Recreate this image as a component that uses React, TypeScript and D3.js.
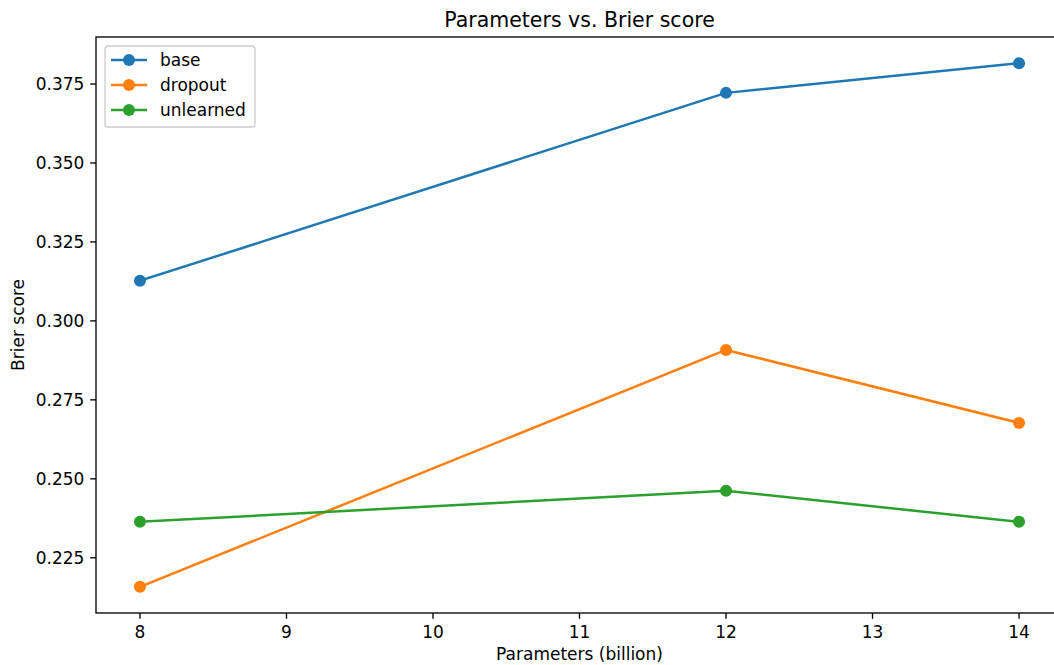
import React, { useEffect, useRef } from 'react';
import * as d3 from 'd3';

// data
const params = [8, 12, 14];
const baseScores = [0.3127, 0.3722, 0.3816];
const dropoutScores = [0.2158, 0.2908, 0.2677];
const unlearnedScores = [0.2364, 0.2462, 0.2364];
const xTicks = [8, 9, 10, 11, 12, 13, 14];
const yTicks = [0.225, 0.25, 0.275, 0.3, 0.325, 0.35, 0.375];

const seriesList = [
    { name: 'base', values: baseScores, color: '#1f77b4' },
    { name: 'dropout', values: dropoutScores, color: '#ff7f0e' },
    { name: 'unlearned', values: unlearnedScores, color: '#2ca02c' },
];

const W = 1054;
const H = 665;
const FONT = 'DejaVu Sans, sans-serif';
const FS = '17px';

export default function App() {
    const svgRef = useRef<SVGSVGElement>(null);

    useEffect(() => {
        document.body.style.margin = '0';
        const svg = d3.select(svgRef.current);
        svg.selectAll('*').remove();

        const left = 96, right = 1063, top = 37, bottom = 613;

        // matplotlib style 5% margins
        const xPad = (14 - 8) * 0.05;
        const x = d3.scaleLinear().domain([8 - xPad, 14 + xPad]).range([left, right]);
        const allY = [...baseScores, ...dropoutScores, ...unlearnedScores];
        const yMin = d3.min(allY)!, yMax = d3.max(allY)!;
        const yPad = (yMax - yMin) * 0.05;
        const y = d3.scaleLinear().domain([yMin - yPad, yMax + yPad]).range([bottom, top]);

        const g = svg.append('g');

        // lines + markers
        const line = d3.line<number>()
            .x((_, i) => x(params[i]))
            .y(d => y(d));

        seriesList.forEach(s => {
            g.append('path')
                .attr('d', line(s.values))
                .attr('fill', 'none')
                .attr('stroke', s.color)
                .attr('stroke-width', 2.5)
                .attr('stroke-linejoin', 'round')
                .attr('stroke-linecap', 'square');
            g.selectAll(null)
                .data(s.values)
                .enter()
                .append('circle')
                .attr('cx', (_, i) => x(params[i]))
                .attr('cy', d => y(d))
                .attr('r', 6)
                .attr('fill', s.color);
        });

        // spines (right one falls outside the image)
        g.append('rect')
            .attr('x', left).attr('y', top)
            .attr('width', right - left).attr('height', bottom - top)
            .attr('fill', 'none').attr('stroke', '#000').attr('stroke-width', 1.33);

        // x ticks
        const xt = g.append('g');
        xTicks.forEach(t => {
            xt.append('line')
                .attr('x1', x(t)).attr('x2', x(t))
                .attr('y1', bottom).attr('y2', bottom + 5.8)
                .attr('stroke', '#000').attr('stroke-width', 1.33);
            xt.append('text')
                .attr('x', x(t)).attr('y', bottom + 11.6)
                .attr('dy', '0.76em')
                .attr('text-anchor', 'middle')
                .style('font-family', FONT).style('font-size', FS)
                .text(t);
        });

        // y ticks
        const yt = g.append('g');
        yTicks.forEach(t => {
            yt.append('line')
                .attr('x1', left - 5.8).attr('x2', left)
                .attr('y1', y(t)).attr('y2', y(t))
                .attr('stroke', '#000').attr('stroke-width', 1.33);
            yt.append('text')
                .attr('x', left - 11.6).attr('y', y(t))
                .attr('dy', '0.36em')
                .attr('text-anchor', 'end')
                .style('font-family', FONT).style('font-size', FS)
                .text(t.toFixed(3));
        });

        // axis labels and title
        svg.append('text')
            .attr('x', (left + right) / 2).attr('y', 660)
            .attr('text-anchor', 'middle')
            .style('font-family', FONT).style('font-size', FS)
            .text('Parameters (billion)');

        svg.append('text')
            .attr('transform', `translate(24, ${(top + bottom) / 2}) rotate(-90)`)
            .attr('text-anchor', 'middle')
            .style('font-family', FONT).style('font-size', FS)
            .text('Brier score');

        svg.append('text')
            .attr('x', (left + right) / 2).attr('y', top - 10)
            .attr('text-anchor', 'middle')
            .style('font-family', FONT).style('font-size', '20.5px')
            .text('Parameters vs. Brier score');

        // legend
        const lg = svg.append('g').attr('transform', 'translate(105, 46)');
        lg.append('rect')
            .attr('width', 150).attr('height', 81)
            .attr('rx', 3.3)
            .attr('fill', 'rgba(255,255,255,0.8)')
            .attr('stroke', '#cccccc').attr('stroke-width', 1.33);
        seriesList.forEach((s, i) => {
            const cy = 14 + i * 25;
            lg.append('line')
                .attr('x1', 6).attr('x2', 42)
                .attr('y1', cy).attr('y2', cy)
                .attr('stroke', s.color).attr('stroke-width', 2.5);
            lg.append('circle').attr('cx', 24).attr('cy', cy).attr('r', 6).attr('fill', s.color);
            lg.append('text')
                .attr('x', 55).attr('y', cy)
                .attr('dy', '0.36em')
                .style('font-family', FONT).style('font-size', FS)
                .text(s.name);
        });
    }, []);

    return <svg ref={svgRef} width={W} height={H} style={{ display: 'block', background: '#fff' }} />;
}
